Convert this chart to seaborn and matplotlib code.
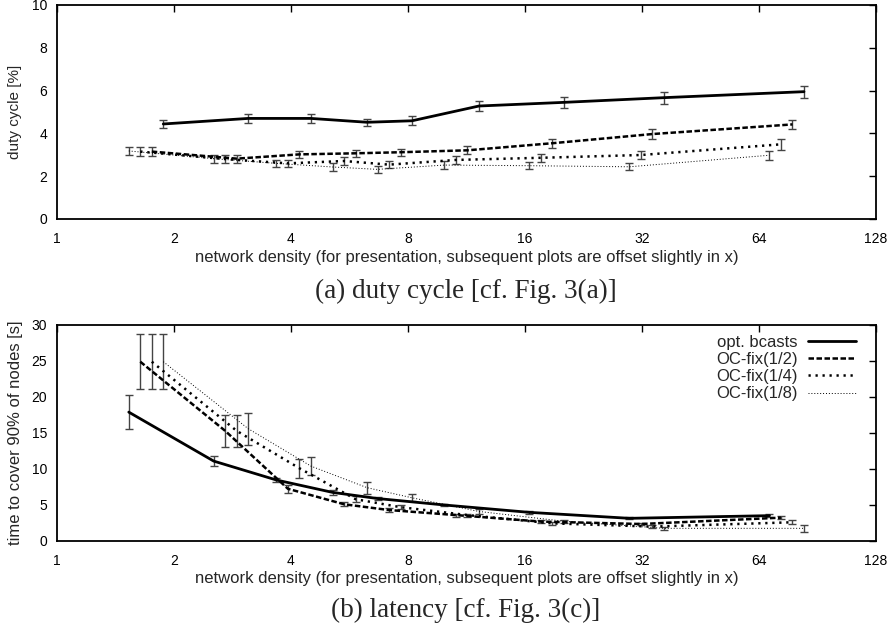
import numpy as np
import pandas as pd
import matplotlib
matplotlib.use("Agg")
import matplotlib.pyplot as plt
import seaborn as sns

# ---------------- data ----------------
series = ["opt. bcasts", "OC-fix(1/2)", "OC-fix(1/4)", "OC-fix(1/8)"]
density = [1.53, 2.53, 3.67, 5.12, 6.68, 9.93, 16.4, 29.7, 68.1]
offset_factor = 1.0705  # "subsequent plots are offset slightly in x"

# (a) duty cycle [%]
duty = {
    "opt. bcasts": [4.44, 4.70, 4.70, 4.52, 4.59, 5.28, 5.45, 5.67, 5.95],
    "OC-fix(1/2)": [3.15, 2.82, 3.02, 3.07, 3.12, 3.21, 3.54, 3.97, 4.42],
    "OC-fix(1/4)": [3.15, 2.80, 2.60, 2.71, 2.54, 2.76, 2.86, 2.99, 3.49],
    "OC-fix(1/8)": [3.18, 2.82, 2.60, 2.43, 2.32, 2.52, 2.49, 2.44, 2.98],
}
duty_err = {
    "opt. bcasts": [0.17, 0.20, 0.20, 0.17, 0.20, 0.25, 0.27, 0.28, 0.28],
    "OC-fix(1/2)": [0.20, 0.18, 0.18, 0.17, 0.17, 0.18, 0.20, 0.22, 0.22],
    "OC-fix(1/4)": [0.20, 0.18, 0.17, 0.17, 0.17, 0.17, 0.18, 0.20, 0.25],
    "OC-fix(1/8)": [0.20, 0.18, 0.17, 0.17, 0.15, 0.17, 0.17, 0.17, 0.20],
}
duty_offset_rank = {"OC-fix(1/8)": 0, "OC-fix(1/4)": 1, "OC-fix(1/2)": 2, "opt. bcasts": 3}

# (b) latency: time to cover 90% of nodes [s]
lat = {
    "opt. bcasts": [17.9, 11.1, 8.47, 6.75, 5.9, 5.0, 3.98, 3.15, 3.52],
    "OC-fix(1/2)": [24.9, 15.3, 7.25, 5.1, 4.3, 3.6, 2.7, 2.36, 3.24],
    "OC-fix(1/4)": [24.9, 15.3, 10.1, 5.8, 4.7, 3.6, 2.45, 2.0, 2.6],
    "OC-fix(1/8)": [24.9, 15.6, 10.4, 7.4, 6.0, 4.1, 2.75, 1.76, 1.76],
}
lat_err = {
    "opt. bcasts": [2.4, 0.7, 0.3, 0.3, 0.2, 0.2, 0.2, 0.15, 0.2],
    "OC-fix(1/2)": [3.8, 2.2, 0.55, 0.3, 0.3, 0.2, 0.2, 0.2, 0.2],
    "OC-fix(1/4)": [3.8, 2.2, 1.3, 0.4, 0.3, 0.2, 0.2, 0.2, 0.3],
    "OC-fix(1/8)": [3.8, 2.2, 1.3, 0.85, 0.5, 0.3, 0.2, 0.2, 0.5],
}
lat_offset_rank = {"opt. bcasts": 0, "OC-fix(1/2)": 1, "OC-fix(1/4)": 2, "OC-fix(1/8)": 3}

xticks = [1, 2, 4, 8, 16, 32, 64, 128]
duty_yticks = [0, 2, 4, 6, 8, 10]
lat_yticks = [0, 5, 10, 15, 20, 25, 30]

xlabel = "network density (for presentation, subsequent plots are offset slightly in x)"

# ---------------- style ----------------
sns.set_style("white")
plt.rcParams["font.family"] = ["Liberation Sans", "DejaVu Sans"]

styles = {
    "opt. bcasts": dict(lw=2.0, dashes=None),
    "OC-fix(1/2)": dict(lw=1.8, dashes=(2.2, 1.0)),
    "OC-fix(1/4)": dict(lw=1.8, dashes=(0.9, 1.9)),
    "OC-fix(1/8)": dict(lw=0.7, dashes=(1.0, 2.0)),
}

def build_df(values, ranks):
    rows = []
    for s in series:
        for d, v in zip(density, values[s]):
            rows.append({"series": s, "x": d * offset_factor ** ranks[s], "y": v})
    return pd.DataFrame(rows)

W, H = 894, 627
fig = plt.figure(figsize=(W / 100, H / 100), dpi=100)
ax1 = fig.add_axes([57 / W, 1 - 219 / H, 819 / W, 214 / H])
ax2 = fig.add_axes([57 / W, 1 - 541 / H, 819 / W, 216 / H])

def draw(ax, values, errs, ranks, ylim, yticks, ylabel, ylabel_size, ax_h_px,
         xlab_offset_px, legend):
    ax.set_xscale("log", base=2)
    df = build_df(values, ranks)
    handles = []
    for s in series:
        st = styles[s]
        sub = df[df.series == s]
        sns.lineplot(data=sub, x="x", y="y", ax=ax, color="black",
                     linewidth=st["lw"], estimator=None, sort=True,
                     errorbar=None, legend=False)
        line = ax.get_lines()[-1]
        if st["dashes"] is not None:
            line.set_dashes(st["dashes"])
            line.set_dash_capstyle("butt")
        handles.append(line)
        ax.errorbar(sub["x"], sub["y"], yerr=errs[s], fmt="none",
                    ecolor="#444444", elinewidth=1.0, capsize=2.9,
                    capthick=1.0, zorder=1)
    ax.set_xlim(1, 128)
    ax.set_ylim(*ylim)
    ax.set_xticks(xticks)
    ax.set_xticklabels([str(t) for t in xticks])
    ax.set_yticks(yticks)
    ax.set_yticklabels([str(t) for t in yticks])
    ax.minorticks_off()
    ax.tick_params(direction="in", length=5, width=1.0, top=True, right=True,
                   labelsize=10, colors="black")
    ax.tick_params(axis="x", pad=9.5)
    ax.tick_params(axis="y", pad=7)
    for sp in ax.spines.values():
        sp.set_linewidth(1.3)
        sp.set_color("black")
    ax.set_xlabel(xlabel, fontsize=12, va="center")
    ax.xaxis.set_label_coords(0.5, -xlab_offset_px / ax_h_px)
    ax.set_ylabel(ylabel, fontsize=ylabel_size, va="center")
    ax.yaxis.set_label_coords(-42 / 819, 0.5)
    if legend:
        ax.legend(handles, series, loc="upper right",
                  bbox_to_anchor=(0.9837, 0.985), borderaxespad=0,
                  frameon=False, markerfirst=False, handlelength=2.9,
                  fontsize=12, labelspacing=0.13, handletextpad=0.6)

draw(ax1, duty, duty_err, duty_offset_rank, (0, 10), duty_yticks,
     "duty cycle [%]", 11, 214, 39, False)
draw(ax2, lat, lat_err, lat_offset_rank, (0, 30), lat_yticks,
     "time to cover 90% of nodes [s]", 12, 216, 38, True)

serif = ["Liberation Serif", "DejaVu Serif"]
fig.text(466 / W, 1 - 291 / H, "(a) duty cycle [cf. Fig. 3(a)]", ha="center",
         va="center", fontsize=19.5, family=serif)
fig.text(466 / W, 1 - 610 / H, "(b) latency [cf. Fig. 3(c)]", ha="center",
         va="center", fontsize=19.5, family=serif)

fig.savefig("out.png", dpi=100)
